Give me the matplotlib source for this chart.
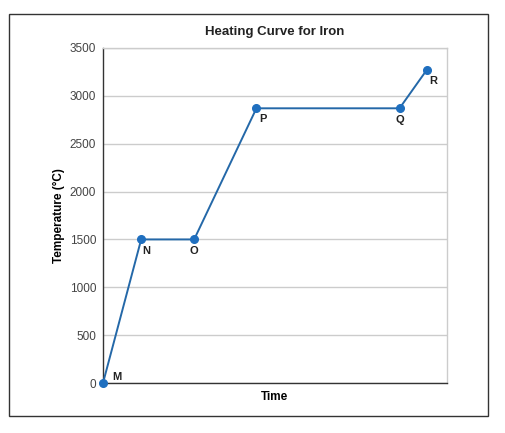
import matplotlib
matplotlib.use("Agg")
import matplotlib.pyplot as plt
from matplotlib.patches import Rectangle

plt.rcParams["font.family"] = ["Liberation Sans", "DejaVu Sans"]

# data
labels = ["M", "N", "O", "P", "Q", "R"]
time = [0, 11.1, 26.5, 44.6, 86.2, 94.1]
temp = [0, 1500, 1500, 2870, 2870, 3270]
yticks = [0, 500, 1000, 1500, 2000, 2500, 3000, 3500]

# label offsets in points (dx, dy)
offsets = [(7, 4), (1, -8), (0, -8.5), (2, -8), (0, -8.5), (2, -8)]

W, H = 506, 433
fig = plt.figure(figsize=(W / 100, H / 100), dpi=100)
fig.patch.set_facecolor("white")

# outer frame
fig.add_artist(Rectangle((9.5 / W, 1 - 416 / H), (488 - 9.5) / W, (416 - 14) / H,
                         transform=fig.transFigure, fill=False,
                         edgecolor="#333333", linewidth=1.0))

ax = fig.add_axes([103 / W, 1 - 383 / H, (447 - 103) / W, (383 - 48) / H])
ax.set_xlim(0, 100)
ax.set_ylim(0, 3500)
ax.set_yticks(yticks)
ax.set_xticks([])
ax.grid(axis="y", color="#cccccc", linewidth=1.0)
ax.set_axisbelow(True)
ax.tick_params(axis="y", length=0, labelsize=8.5, labelcolor="#444444", pad=5)

for side in ["top", "right"]:
    ax.spines[side].set_color("#cccccc")
    ax.spines[side].set_linewidth(1.0)
for side in ["left", "bottom"]:
    ax.spines[side].set_color("#333333")
    ax.spines[side].set_linewidth(1.0)

ax.plot(time, temp, color="#2468a8", linewidth=1.4, marker="o",
        markersize=5.5, markerfacecolor="#1f6fbf", markeredgecolor="#1f6fbf",
        clip_on=False, zorder=3)

for lab, x, y, (dx, dy) in zip(labels, time, temp, offsets):
    ax.annotate(lab, (x, y), xytext=(dx, dy), textcoords="offset points",
                fontsize=8, fontweight="bold", color="#222222",
                ha="left" if dx > 0 else "center", va="center")

ax.set_xlabel("Time", fontsize=8.5, fontweight="bold", labelpad=6)
ax.set_ylabel("Temperature (°C)", fontsize=8.5, fontweight="bold", labelpad=3)
fig.text(275 / W, 1 - 32 / H, "Heating Curve for Iron", ha="center", va="center",
         fontsize=9.5, fontweight="bold", color="#222222")

fig.savefig("out.png", dpi=100)
